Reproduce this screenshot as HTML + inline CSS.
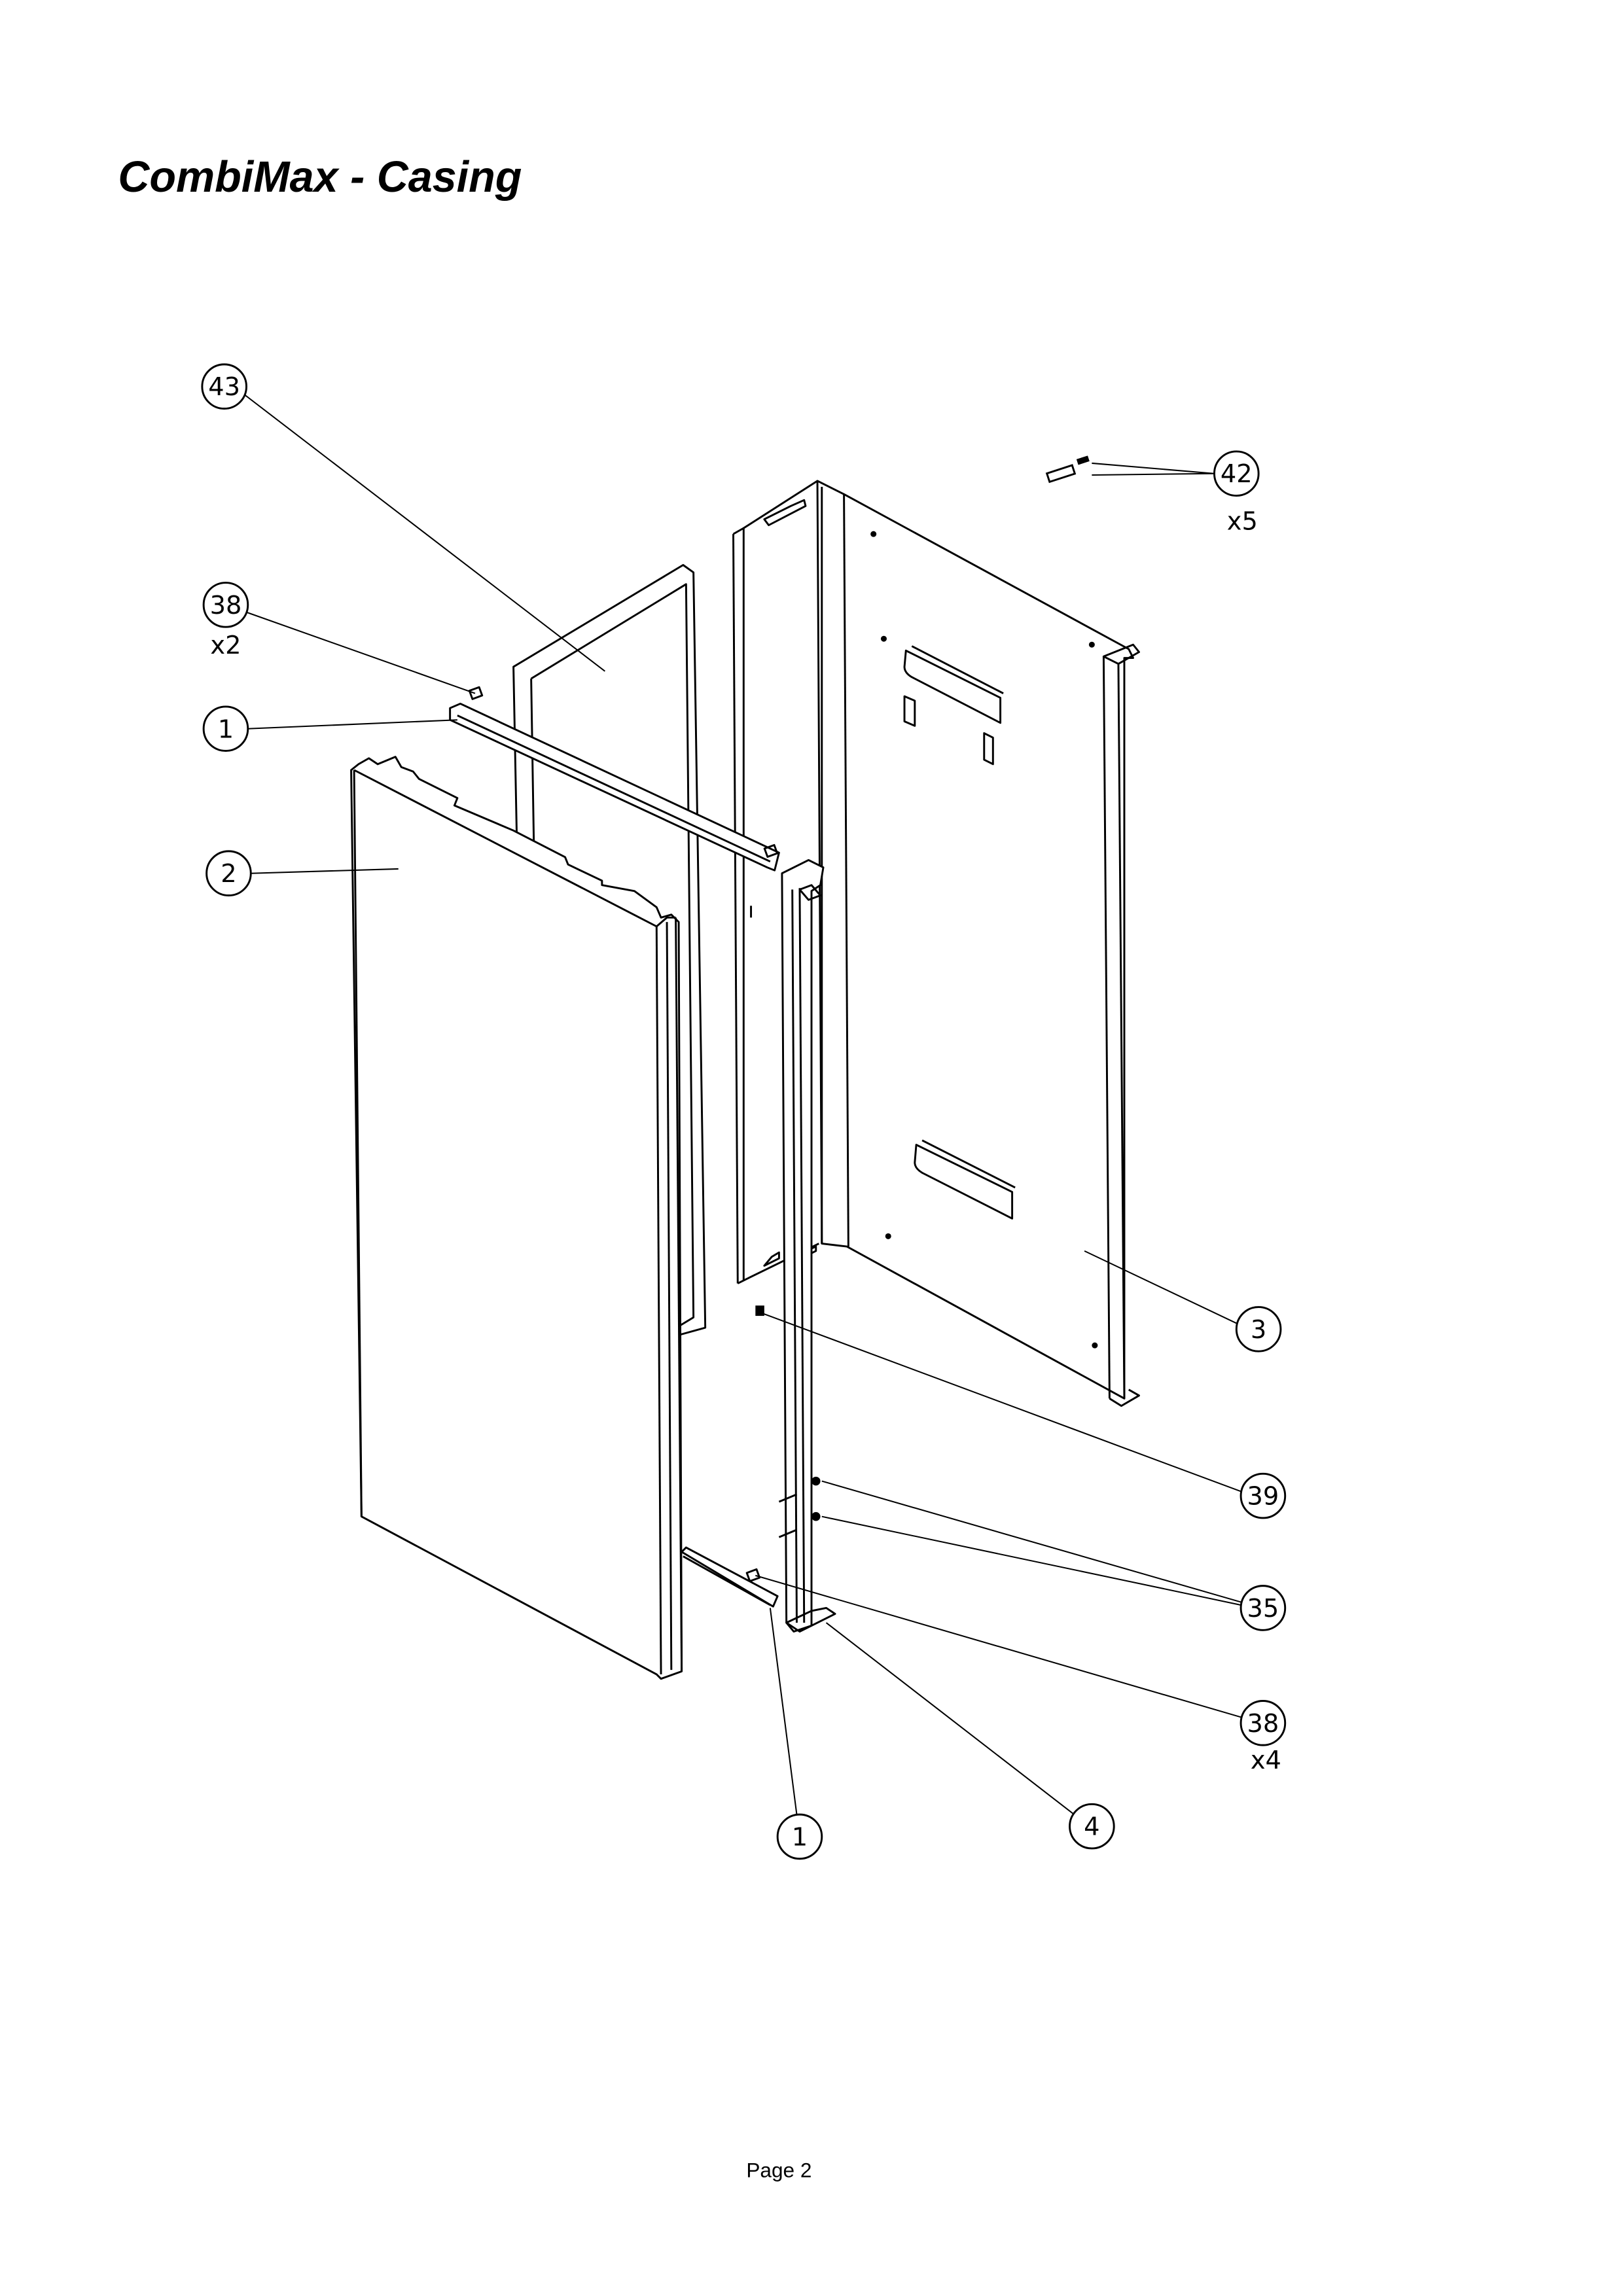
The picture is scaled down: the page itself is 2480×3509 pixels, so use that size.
<!DOCTYPE html>
<html><head><meta charset="utf-8"><style>
html,body{margin:0;padding:0;background:#fff;}
svg{display:block;}
</style></head><body>
<svg xmlns="http://www.w3.org/2000/svg" width="2480" height="3509" viewBox="0 0 1100 1556.4">
<rect width="1100" height="1556.4" fill="#fff"/>
<text x="80" y="130" font-family="Liberation Sans, sans-serif" font-size="29.5" font-weight="bold" font-style="italic" fill="#000">CombiMax - Casing</text>
<text x="528" y="1476" font-family="Liberation Sans, sans-serif" font-size="14" text-anchor="middle" fill="#000">Page 2</text>

<g fill="none" stroke="#000" stroke-width="1.3" stroke-linejoin="round">
<!-- Back panel 3 -->
<polygon points="554,326 572,335 765,440 768,446 762,446 762,948 574,845 557,843" fill="#fff"/>
<line x1="557" y1="330" x2="557" y2="843"/>
<line x1="572" y1="335" x2="575" y2="845"/>
<polyline points="497,362 504,358 504,868"/>
<line x1="497" y1="362" x2="500" y2="870"/>
<polyline points="504,358 554,326"/>
<polyline points="500,870 508,866 555,843"/>
<polygon points="518,352 528,347 536,343 545,339 546,343 521,356"/>
<polygon points="518,858 528,853 528,849 523,852"/>
<polygon points="545,852 553,848 553,845 546,848"/>
<!-- right flange -->
<polygon points="748,445 768,437 772,442 758,450"/>
<line x1="748" y1="445" x2="752" y2="948"/>
<line x1="758" y1="450" x2="762" y2="948"/>
<polyline points="752,948 760,953 772,946 765,942"/>
<!-- slots -->
<path d="M614,441 L678,473 L678,490 L618,459 Q613,456 613,452 Z"/>
<line x1="618" y1="438" x2="680" y2="470"/>
<polygon points="613,472 620,475 620,492 613,489"/>
<polygon points="667,497 673,500 673,518 667,515"/>
<path d="M621,776 L686,808 L686,826 L625,795 Q620,792 620,788 Z"/>
<line x1="625" y1="773" x2="688" y2="805"/>
</g>
<g fill="#000">
<circle cx="592" cy="362" r="2"/><circle cx="599" cy="433" r="2"/><circle cx="740" cy="437" r="2"/>
<circle cx="602" cy="838" r="2"/><circle cx="742" cy="912" r="2"/>
</g>

<g fill="none" stroke="#000" stroke-width="1.3" stroke-linejoin="round">
<!-- Gasket 43 -->
<polygon points="348,452 463,383 470,388 478,900 460,905 358,968"/>
<polyline points="360,460 465,396 470,893 368,955 360,460"/>
<!-- top rail 1 -->
<polygon points="305,480 312,477 528,578 525,590 520,588 305,488" fill="#fff"/>
<line x1="310" y1="485" x2="522" y2="584"/>
<rect x="319" y="467" width="7" height="6" transform="rotate(-20 322 470)"/>
<rect x="519" y="574" width="7" height="6" transform="rotate(-20 522 577)"/>

<!-- Front panel 2 -->
<polygon points="238,522 243,518 250,514 256,518 268,513 272,520 280,523 284,528 310,541 308,546 348,563 383,581 385,586 408,597 408,600 430,604 445,615 448,622 455,620 460,625 462,1133 448,1138 445,1135 245,1028" fill="#fff"/>
<polyline points="240,522 445,628"/>
<line x1="445" y1="628" x2="448" y2="1135"/>
<line x1="452" y1="625" x2="455" y2="1132"/>
<line x1="458" y1="622" x2="462" y2="1133"/>
<polyline points="445,628 452,622 458,622"/>
<line x1="240" y1="522" x2="245" y2="1028"/>

<!-- corner post 4 -->
<polygon points="530,592 548,583 558,588 556,600 550,604 550,1102 538,1106 533,1100" fill="#fff"/>
<line x1="537" y1="603" x2="540" y2="1100"/>
<line x1="542" y1="602" x2="545" y2="1100"/>
<polygon points="542,603 550,600 556,607 548,610"/>
<polygon points="533,1100 542,1106 566,1094 560,1090 550,1092"/>
<line x1="509" y1="614" x2="509" y2="622"/>
<line x1="540" y1="1013" x2="528" y2="1018"/>
<line x1="540" y1="1037" x2="528" y2="1042"/>

<!-- bottom rail 1 -->
<polygon points="462,1052 465,1049 527,1082 524,1089" fill="#fff"/>
<line x1="463" y1="1055" x2="522" y2="1088"/>
<rect x="507" y="1065" width="7" height="6" transform="rotate(-20 510 1068)"/>
</g>
<g fill="#000">
<rect x="512" y="885" width="6" height="7"/>
<circle cx="553" cy="1004" r="3"/><circle cx="553" cy="1028" r="3"/>
<rect x="710" y="318" width="18" height="6" transform="rotate(-18 719 321)" fill="#fff" stroke="#000" stroke-width="1.3"/>
<rect x="730" y="310" width="8" height="4" transform="rotate(-18 734 312)"/>
</g>

<!-- leaders -->
<g stroke="#000" stroke-width="0.9" fill="none">
<line x1="165" y1="267" x2="410" y2="455"/>
<line x1="167" y1="415" x2="322" y2="470"/>
<line x1="168" y1="494" x2="310" y2="488"/>
<line x1="170" y1="592" x2="270" y2="589"/>
<line x1="823" y1="321" x2="740" y2="322"/>
<line x1="823" y1="321" x2="740" y2="314"/>
<line x1="838" y1="897" x2="735" y2="848"/>
<line x1="841" y1="1011" x2="516" y2="890"/>
<line x1="841" y1="1086" x2="557" y2="1004"/>
<line x1="841" y1="1088" x2="557" y2="1028"/>
<line x1="841" y1="1164" x2="512" y2="1068"/>
<line x1="728" y1="1230" x2="560" y2="1100"/>
<line x1="540" y1="1230" x2="522" y2="1090"/>
</g>

<!-- callouts -->
<g stroke="#000" stroke-width="1.3" fill="#fff">
<circle cx="152" cy="262" r="15"/>
<circle cx="153" cy="410" r="15"/>
<circle cx="153" cy="494" r="15"/>
<circle cx="155" cy="592" r="15"/>
<circle cx="838" cy="321" r="15"/>
<circle cx="853" cy="901" r="15"/>
<circle cx="856" cy="1014" r="15"/>
<circle cx="856" cy="1090" r="15"/>
<circle cx="856" cy="1168" r="15"/>
<circle cx="740" cy="1238" r="15"/>
<circle cx="542" cy="1245" r="15"/>
</g>
<g font-family="DejaVu Sans, Liberation Sans, sans-serif" font-size="17" text-anchor="middle" fill="#000">
<text x="152" y="268">43</text>
<text x="153" y="416">38</text>
<text x="153" y="443">x2</text>
<text x="153" y="500">1</text>
<text x="155" y="598">2</text>
<text x="838" y="327">42</text>
<text x="842" y="359">x5</text>
<text x="853" y="907">3</text>
<text x="856" y="1020">39</text>
<text x="856" y="1096">35</text>
<text x="856" y="1174">38</text>
<text x="858" y="1199">x4</text>
<text x="740" y="1244">4</text>
<text x="542" y="1251">1</text>
</g>
</svg>
</body></html>
